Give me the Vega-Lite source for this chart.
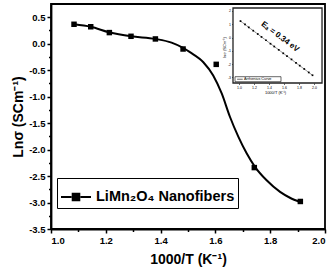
{
  "$schema": "https://vega.github.io/schema/vega-lite/v6.json",
  "width": 274,
  "height": 225,
  "autosize": {"type": "none"},
  "padding": {"left": 51, "top": 4, "right": 10, "bottom": 49},
  "background": "white",
  "config": {
    "font": "Liberation Sans",
    "view": {"stroke": "black", "strokeWidth": 1.8},
    "axis": {"grid": false, "labelColor": "black", "titleColor": "black", "domainColor": "black", "tickColor": "black", "labelFont": "Liberation Sans", "titleFont": "Liberation Sans", "labelFontWeight": "bold", "titleFontWeight": "bold"}
  },
  "datasets": {
    "one": [{"k": 1}],
    "curve": [
      {"x": 1.084, "y": 0.367}, {"x": 1.145, "y": 0.32}, {"x": 1.213, "y": 0.215}, {"x": 1.292, "y": 0.14},
      {"x": 1.381, "y": 0.09}, {"x": 1.44, "y": 0.02}, {"x": 1.482, "y": -0.08}, {"x": 1.507, "y": -0.16},
      {"x": 1.556, "y": -0.35}, {"x": 1.592, "y": -0.6}, {"x": 1.623, "y": -0.94}, {"x": 1.653, "y": -1.38},
      {"x": 1.684, "y": -1.76}, {"x": 1.714, "y": -2.07}, {"x": 1.745, "y": -2.33}, {"x": 1.787, "y": -2.58},
      {"x": 1.836, "y": -2.8}, {"x": 1.872, "y": -2.91}, {"x": 1.909, "y": -2.99}
    ],
    "points": [
      {"x": 1.084, "y": 0.367}, {"x": 1.145, "y": 0.32}, {"x": 1.213, "y": 0.21}, {"x": 1.292, "y": 0.14},
      {"x": 1.381, "y": 0.09}, {"x": 1.482, "y": -0.1}, {"x": 1.603, "y": -0.39}, {"x": 1.742, "y": -2.34},
      {"x": 1.91, "y": -2.98}
    ],
    "inset": [
      {"x": 1.02, "y": 1.24}, {"x": 1.08, "y": 0.99}, {"x": 1.13, "y": 0.77}, {"x": 1.19, "y": 0.52},
      {"x": 1.25, "y": 0.27}, {"x": 1.3, "y": 0.05}, {"x": 1.36, "y": -0.2}, {"x": 1.42, "y": -0.46},
      {"x": 1.47, "y": -0.67}, {"x": 1.53, "y": -0.92}, {"x": 1.59, "y": -1.18}, {"x": 1.64, "y": -1.39},
      {"x": 1.7, "y": -1.64}, {"x": 1.76, "y": -1.9}, {"x": 1.81, "y": -2.11}, {"x": 1.87, "y": -2.36},
      {"x": 1.93, "y": -2.62}, {"x": 1.98, "y": -2.83}
    ]
  },
  "layer": [
    {
      "layer": [
        {
          "data": {"name": "curve"},
          "mark": {"type": "line", "interpolate": "monotone", "strokeWidth": 2},
          "encoding": {
            "x": {"field": "x", "type": "quantitative", "scale": {"domain": [1, 2], "nice": false, "zero": false},
              "axis": {"orient": "bottom", "values": [1, 1.2, 1.4, 1.6, 1.8, 2], "labelExpr": "replace(format(datum.value, '.1f'), '\u2212', '-')", "title": "1000/T (K\u207b\u00b9)", "titleFontSize": 14, "labelFontSize": 9.5, "tickSize": 4, "tickWidth": 1.5, "domainWidth": 1.8, "labelPadding": 2, "titlePadding": 8}},
            "y": {"field": "y", "type": "quantitative", "scale": {"domain": [-3.5, 0.75], "nice": false, "zero": false},
              "axis": {"orient": "left", "values": [-3.5, -3, -2.5, -2, -1.5, -1, -0.5, 0, 0.5], "labelExpr": "replace(format(datum.value, '.1f'), '\u2212', '-')", "title": "Ln\u03c3 (SCm\u207b\u00b9)", "titleFontSize": 14, "labelFontSize": 9.5, "tickSize": 4, "tickWidth": 1.5, "domainWidth": 1.8, "labelPadding": 2, "titlePadding": 3}},
            "color": {"datum": "LiMn\u2082O\u2084 Nanofibers", "scale": {"range": ["black"]},
              "legend": {"title": null, "orient": "none", "legendX": 6, "legendY": 174, "padding": 3, "strokeColor": "black", "fillColor": "white",
                "symbolType": "M-1,0H-0.3M0.3,0H1M-0.22,-0.22H0.22V0.22H-0.22Z", "symbolSize": 900, "symbolStrokeWidth": 2, "symbolFillColor": "black", "symbolStrokeColor": "black",
                "labelFont": "Liberation Sans", "labelFontWeight": "bold", "labelFontSize": 14.5, "labelColor": "black", "labelLimit": 0, "labelOffset": 4,
                "encode": {"symbols": {"update": {"fill": {"value": "black"}, "stroke": {"value": "black"}, "strokeWidth": {"value": 2}, "opacity": {"value": 1}}}}}}
          }
        },
        {
          "data": {"name": "points"},
          "mark": {"type": "square", "size": 30, "opacity": 1, "color": "black"},
          "encoding": {
            "x": {"field": "x", "type": "quantitative", "scale": {"domain": [1, 2], "nice": false, "zero": false},
              "axis": {"orient": "bottom", "values": [1.1, 1.3, 1.5, 1.7, 1.9], "labels": false, "domain": false, "title": null, "tickSize": 2.5, "tickWidth": 1.5}},
            "y": {"field": "y", "type": "quantitative", "scale": {"domain": [-3.5, 0.75], "nice": false, "zero": false},
              "axis": {"orient": "left", "values": [-3.25, -2.75, -2.25, -1.75, -1.25, -0.75, -0.25, 0.25], "labels": false, "domain": false, "title": null, "tickSize": 2.5, "tickWidth": 1.5}}
          }
        }
      ],
      "resolve": {"axis": {"x": "independent", "y": "independent"}}
    },
    {
      "layer": [
        {
          "data": {"name": "one"},
          "mark": {"type": "rect", "fill": "white", "stroke": "#222", "strokeWidth": 1.3},
          "encoding": {
            "x": {"datum": 0.92, "type": "quantitative", "scale": {"domain": [-1.5067, 2.1467], "nice": false, "zero": false},
              "axis": {"orient": "bottom", "offset": -146, "values": [1, 1.2, 1.4, 1.6, 1.8, 2], "format": ".1f", "domain": false, "labelFontSize": 3.5, "labelFontWeight": "normal", "tickSize": 1.5, "tickWidth": 0.6, "labelPadding": 1, "title": "1000/T (K\u207b\u00b9)", "titleFontSize": 4, "titleFontWeight": "normal", "titleX": 224, "titlePadding": 1}},
            "x2": {"datum": 2.107},
            "y": {"datum": 2.225, "type": "quantitative", "scale": {"domain": [-14.391, 2.526], "nice": false, "zero": false},
              "axis": {"orient": "left", "offset": -182, "values": [2, 1, 0, -1, -2, -3], "labelExpr": "replace(format(datum.value, 'd'), '\u2212', '-')", "domain": false, "labelFontSize": 3.5, "labelFontWeight": "normal", "tickSize": 1.5, "tickWidth": 0.6, "labelPadding": 1, "title": "ln\u03c3 (SCm\u207b\u00b9)", "titleFontSize": 4, "titleFontWeight": "normal", "titleY": 43, "titlePadding": 1}},
            "y2": {"datum": -3.414}
          }
        },
        {
          "data": {"name": "inset"},
          "mark": {"type": "line", "color": "black", "strokeWidth": 0.7, "strokeDash": [1.5, 1]},
          "encoding": {
            "x": {"field": "x", "type": "quantitative"},
            "y": {"field": "y", "type": "quantitative"}
          }
        },
        {
          "data": {"name": "inset"},
          "mark": {"type": "square", "size": 3, "color": "black", "opacity": 1},
          "encoding": {
            "x": {"field": "x", "type": "quantitative"},
            "y": {"field": "y", "type": "quantitative"}
          }
        },
        {
          "data": {"name": "one"},
          "mark": {"type": "text", "text": "E\u2090 = 0.34 eV", "angle": 37, "fontSize": 8, "fontWeight": "bold", "font": "Liberation Sans", "color": "black", "align": "center", "baseline": "middle"},
          "encoding": {
            "x": {"datum": 1.547, "type": "quantitative"},
            "y": {"datum": 0.045, "type": "quantitative"}
          }
        },
        {
          "data": {"name": "one"},
          "mark": {"type": "rect", "fill": "white", "stroke": "black", "strokeWidth": 0.6},
          "encoding": {
            "x": {"datum": 0.947, "type": "quantitative"},
            "x2": {"datum": 1.56},
            "y": {"datum": -2.94, "type": "quantitative"},
            "y2": {"datum": -3.316}
          }
        },
        {
          "data": {"name": "one"},
          "mark": {"type": "rule", "color": "black", "strokeWidth": 0.6},
          "encoding": {
            "x": {"datum": 0.975, "type": "quantitative"},
            "x2": {"datum": 1.05},
            "y": {"datum": -3.13, "type": "quantitative"}
          }
        },
        {
          "data": {"name": "one"},
          "mark": {"type": "text", "text": "Arrhenius Curve", "fontSize": 3.8, "font": "Liberation Sans", "color": "black", "align": "left", "baseline": "middle"},
          "encoding": {
            "x": {"datum": 1.067, "type": "quantitative"},
            "y": {"datum": -3.13, "type": "quantitative"}
          }
        }
      ]
    }
  ],
  "resolve": {"scale": {"x": "independent", "y": "independent"}}
}
